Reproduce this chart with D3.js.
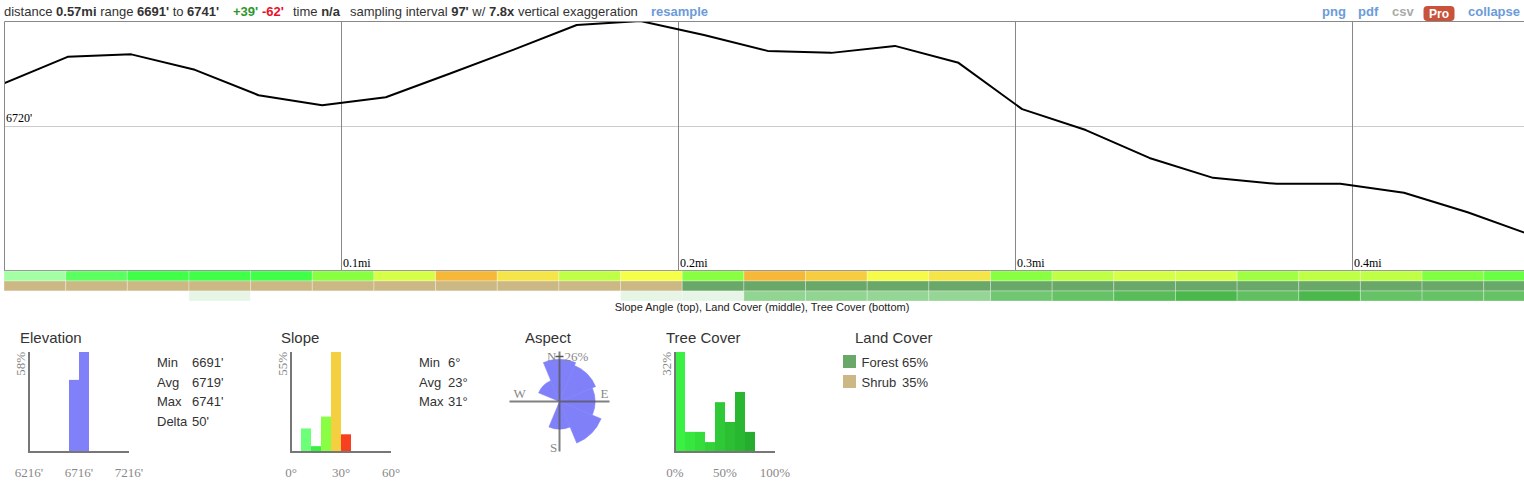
<!DOCTYPE html>
<html lang="en">
<head>
<meta charset="UTF-8">
<title>Terrain profile</title>
<script src="https://d3js.org/d3.v7.min.js"></script>
<style>
  body { margin: 0; background: #fff; }
  svg { display: block; }
  text { white-space: pre; }
</style>
</head>
<body>
<svg width="1524" height="484"></svg>
<script>
// profile elevations (ft), one sample about every 100 ft
var elevation = [6728.5, 6733.8, 6734.3, 6731.2, 6726.1, 6724.1, 6725.7, 6730.4, 6735.2, 6740.2,
                 6741.0, 6738.2, 6735.0, 6734.6, 6736.0, 6732.6, 6723.3, 6719.1, 6713.5, 6709.5,
                 6708.3, 6708.3, 6706.5, 6702.6, 6698.0];
var profileStepFt = 99.7;

// strip cells, one per sampling interval
var sampleStepFt = 96.6;
var slopeDeg = [6, 12, 16, 16, 16, 20, 24, 31, 28.7, 22.8, 27, 20, 31, 30, 27.3, 28.7,
                20, 22.8, 24, 24, 21.3, 22.8, 22.8, 19.6, 18.3];
var landCover = ['Shrub', 'Shrub', 'Shrub', 'Shrub', 'Shrub', 'Shrub', 'Shrub', 'Shrub', 'Shrub', 'Shrub',
                 'Shrub', 'Forest', 'Forest', 'Forest', 'Forest', 'Forest', 'Forest', 'Forest', 'Forest',
                 'Forest', 'Forest', 'Forest', 'Forest', 'Forest', 'Forest'];
var treeCover = [0, 0, 0, 10, 0, 0, 0, 0, 0, 0, 10, 10, 43, 43, 42, 42, 56, 61, 66, 71, 63, 71, 61, 61, 61];

var distTicks = [0.1, 0.2, 0.3, 0.4];   // miles
var elevGrid = [6720];

// summary histograms (% of samples)
var elevBinStart = [6616, 6716];
var elevPct = [41.9, 58.1];
var slopeBinStart = [6, 12, 18, 24, 30];
var slopePct = [12.9, 3.2, 19.4, 54.8, 9.7];
var treeBinStart = [0, 10, 20, 30, 40, 50, 60, 70];
var treePct = [32.3, 6.5, 6.5, 3.2, 16.1, 9.7, 19.4, 6.5];
var aspectDir = ['N', 'NE', 'E', 'SE', 'S', 'SW', 'W', 'NW'];
var aspectPct = [22.6, 19.4, 16.1, 25.8, 9.7, 0, 0, 6.5];
var landNames = ['Forest', 'Shrub'];
var landPct = [65, 35];

var elevStatNames = ['Min', 'Avg', 'Max', 'Delta'];
var elevStatValues = ["6691'", "6719'", "6741'", "50'"];
var slopeStatNames = ['Min', 'Avg', 'Max'];
var slopeStatValues = ['6°', '23°', '31°'];

var SANS = '"Liberation Sans", Arial, sans-serif';
var SERIF = '"Liberation Serif", "Times New Roman", serif';

var svg = d3.select('svg');

//----- header line
function textRun(x, parts, color) {
    var t = svg.append('text').attr('x', x).attr('y', 16)
        .attr('font-family', SANS).attr('font-size', 13).attr('fill', color || '#333');
    t.selectAll('tspan').data(parts).join('tspan')
        .attr('font-weight', function (d) { return d[1] ? 'bold' : null; })
        .text(function (d) { return d[0]; });
}
textRun(4, [['distance '], ['0.57mi', 1], [' range '], ["6691'", 1], [' to '], ["6741'", 1]]);
textRun(233, [["+39'", 1]], '#2e962e');
textRun(262, [["-62'", 1]], '#e8102a');
textRun(293, [['time '], ['n/a', 1]]);
textRun(350, [['sampling interval '], ["97'", 1], [' w/ '], ['7.8x', 1], [' vertical exaggeration']]);
textRun(651, [['resample', 1]], '#6b9bd9');
textRun(1322, [['png', 1]], '#6b9bd9');
textRun(1358, [['pdf', 1]], '#6b9bd9');
textRun(1392, [['csv', 1]], '#aaa');
svg.append('rect').attr('x', 1423.5).attr('y', 6).attr('width', 31).attr('height', 15)
    .attr('rx', 4).attr('fill', '#c9523b');
svg.append('text').attr('x', 1439).attr('y', 18).attr('text-anchor', 'middle')
    .attr('font-family', SANS).attr('font-size', 12).attr('font-weight', 'bold')
    .attr('fill', '#fff').text('Pro');
textRun(1468, [['collapse', 1]], '#6b9bd9');

//----- elevation profile
var plot = {left: 4, top: 21, right: 1524, bottom: 270};
var x = d3.scaleLinear().domain([0, 0.1]).range([4, 341]);          // miles -> px
var y = d3.scaleLinear().domain([6691, 6741]).range([plot.bottom, plot.top]);
var ftToMi = function (ft) { return ft / 5280; };

svg.append('defs').append('clipPath').attr('id', 'plotclip')
    .append('rect').attr('x', plot.left).attr('y', plot.top)
    .attr('width', plot.right - plot.left).attr('height', plot.bottom - plot.top);

var g = svg.append('g');

g.selectAll('line.hgrid').data(elevGrid).join('line')
    .attr('class', 'hgrid')
    .attr('x1', plot.left).attr('x2', plot.right)
    .attr('y1', function (d) { return Math.round(y(d)) + 0.5; })
    .attr('y2', function (d) { return Math.round(y(d)) + 0.5; })
    .attr('stroke', '#ccc');
g.selectAll('text.hlab').data(elevGrid).join('text')
    .attr('class', 'hlab')
    .attr('x', 6).attr('y', function (d) { return y(d) - 4; })
    .attr('font-family', SERIF).attr('font-size', 12).attr('fill', '#000')
    .text(function (d) { return d + "'"; });

g.selectAll('line.vgrid').data(distTicks).join('line')
    .attr('class', 'vgrid')
    .attr('x1', function (d) { return Math.round(x(d)) + 0.5; })
    .attr('x2', function (d) { return Math.round(x(d)) + 0.5; })
    .attr('y1', plot.top).attr('y2', plot.bottom)
    .attr('stroke', '#888');
g.selectAll('text.vlab').data(distTicks).join('text')
    .attr('class', 'vlab')
    .attr('x', function (d) { return x(d) + 2; }).attr('y', 267)
    .attr('font-family', SERIF).attr('font-size', 12).attr('fill', '#000')
    .text(function (d) { return d + 'mi'; });

var line = d3.line()
    .x(function (d, i) { return x(ftToMi(i * profileStepFt)); })
    .y(function (d) { return y(d); });
g.append('path').datum(elevation)
    .attr('d', line)
    .attr('clip-path', 'url(#plotclip)')
    .attr('fill', 'none').attr('stroke', '#000').attr('stroke-width', 2)
    .attr('stroke-linejoin', 'round');

g.append('path')
    .attr('d', 'M' + (plot.left + 0.5) + ',' + (plot.bottom + 0.5) + 'V' + (plot.top + 0.5) + 'H' + plot.right +
               'M' + plot.left + ',' + (plot.bottom + 0.5) + 'H' + plot.right)
    .attr('fill', 'none').attr('stroke', '#888');

//----- strips
var cellW = x(ftToMi(sampleStepFt)) - x(0);
var cellX = function (d, i) { return x(ftToMi(i * sampleStepFt)); };

var slopeColor = d3.scaleLinear()
    .domain([6, 12, 16, 20, 24, 27, 29, 31, 36])
    .range(['#a4ffa4', '#5cff60', '#40ff48', '#88ff40', '#d6ff48', '#f6ff48', '#f6e048', '#f6b838', '#f84020']);
var landColor = d3.scaleOrdinal().domain(['Forest', 'Shrub']).range(['#6aa86a', '#ccb884']);
var treeColor = d3.scaleLinear().domain([0, 85]).range(['#ffffff', '#28aa28']).clamp(true);

function strip(data, y0, color) {
    svg.append('g').selectAll('rect').data(data).join('rect')
        .attr('x', cellX).attr('y', y0).attr('width', cellW).attr('height', 10)
        .attr('fill', color)
        .attr('stroke', 'rgba(255,255,255,0.3)').attr('stroke-width', 1);
}
strip(slopeDeg, 271, function (d) { return slopeColor(d); });
strip(landCover, 281, function (d) { return landColor(d); });
strip(treeCover, 291, function (d) { return treeColor(d); });

svg.append('text').attr('x', 762).attr('y', 311).attr('text-anchor', 'middle')
    .attr('font-family', SANS).attr('font-size', 11).attr('fill', '#222')
    .text('Slope Angle (top), Land Cover (middle), Tree Cover (bottom)');

//----- summary panels
function title(xp, s) {
    svg.append('text').attr('x', xp).attr('y', 343)
        .attr('font-family', SANS).attr('font-size', 15).attr('fill', '#333').text(s);
}
title(20, 'Elevation');
title(281, 'Slope');
title(525, 'Aspect');
title(666, 'Tree Cover');
title(855, 'Land Cover');

var histTop = 352, histBottom = 452;

function histogram(x0, domain, starts, binW, pct, color, ticks, fmt) {
    var hx = d3.scaleLinear().domain(domain).range([x0, x0 + 100]);
    var maxPct = d3.max(pct);
    var hy = d3.scaleLinear().domain([0, maxPct]).range([histBottom, histTop]);
    var hg = svg.append('g');
    hg.selectAll('rect').data(starts).join('rect')
        .attr('x', function (d) { return hx(d); })
        .attr('width', function (d) { return hx(d + binW) - hx(d); })
        .attr('y', function (d, i) { return hy(pct[i]); })
        .attr('height', function (d, i) { return histBottom - hy(pct[i]); })
        .attr('fill', color);
    hg.append('path')
        .attr('d', 'M' + x0 + ',' + histTop + 'V' + histBottom + 'H' + (x0 + 100))
        .attr('fill', 'none').attr('stroke', '#777').attr('stroke-width', 2);
    hg.append('text')
        .attr('transform', 'translate(' + (x0 - 4) + ',' + histTop + ') rotate(-90)')
        .attr('text-anchor', 'end')
        .attr('font-family', SERIF).attr('font-size', 13).attr('fill', '#888')
        .text(Math.round(maxPct) + '%');
    hg.selectAll('text.tick').data(ticks).join('text')
        .attr('class', 'tick')
        .attr('x', function (d) { return hx(d); }).attr('y', 476.5)
        .attr('text-anchor', 'middle')
        .attr('font-family', SERIF).attr('font-size', 13).attr('fill', '#888')
        .text(fmt);
}

histogram(29, [6216, 7216], elevBinStart, 100, elevPct,
          '#8080f8', [6216, 6716, 7216], function (d) { return d + "'"; });

var slopeBinColor = d3.scaleOrdinal().domain(slopeBinStart)
    .range(['#6cff78', '#38f040', '#88ff44', '#f4d040', '#f84020']);
histogram(291, [0, 60], slopeBinStart, 6, slopePct,
          function (d) { return slopeBinColor(d); }, [0, 30, 60], function (d) { return d + '°'; });

var treeBinColor = d3.scaleLinear().domain([0, 70]).range(['#3af042', '#26ac2e']);
histogram(675, [0, 100], treeBinStart, 10, treePct,
          function (d) { return treeBinColor(d); }, [0, 50, 100], function (d) { return d + '%'; });

function stats(xl, xv, names, values) {
    var sg = svg.append('g').attr('font-family', SANS).attr('font-size', 13).attr('fill', '#333');
    sg.selectAll('text.n').data(names).join('text').attr('class', 'n')
        .attr('x', xl).attr('y', function (d, i) { return 367 + i * 19.7; }).text(function (d) { return d; });
    sg.selectAll('text.v').data(values).join('text').attr('class', 'v')
        .attr('x', xv).attr('y', function (d, i) { return 367 + i * 19.7; }).text(function (d) { return d; });
}
stats(157, 192, elevStatNames, elevStatValues);
stats(419, 448, slopeStatNames, slopeStatValues);

//----- aspect rose
var cx = 559.5, cy = 401.5, R = 45;
var rr = d3.scaleSqrt().domain([0, d3.max(aspectPct)]).range([0, R]);
var arc = d3.arc()
    .innerRadius(0)
    .outerRadius(function (d) { return rr(d.v); })
    .startAngle(function (d) { return (d.i * 45 - 22.5) * Math.PI / 180; })
    .endAngle(function (d) { return (d.i * 45 + 22.5) * Math.PI / 180; });
var rose = svg.append('g').attr('transform', 'translate(' + cx + ',' + cy + ')');
rose.selectAll('path').data(aspectPct.map(function (v, i) { return {v: v, i: i, dir: aspectDir[i]}; }))
    .join('path').attr('d', arc)
    .attr('fill', '#8080f8').attr('stroke', '#8080f8').attr('stroke-width', 0.6);
rose.append('path').attr('d', 'M-50,0H50M0,-50V50')
    .attr('stroke', '#555').attr('stroke-opacity', 0.75).attr('stroke-width', 2);
rose.append('path').attr('d', 'M-4,' + (-R) + 'H4')
    .attr('stroke', '#555').attr('stroke-width', 1.5);
var rl = rose.append('g').attr('font-family', SERIF).attr('font-size', 13).attr('fill', '#888');
rl.append('text').attr('x', -3).attr('y', -R + 4).attr('text-anchor', 'end').text('N');
rl.append('text').attr('x', 5).attr('y', -R + 4).text(Math.round(d3.max(aspectPct)) + '%');
rl.append('text').attr('x', -46).attr('y', -3.5).text('W');
rl.append('text').attr('x', 41).attr('y', -3.5).text('E');
rl.append('text').attr('x', -9.5).attr('y', 50).text('S');

//----- land cover legend
var lg = svg.append('g');
lg.selectAll('rect').data(landNames).join('rect')
    .attr('x', 843).attr('y', function (d, i) { return 355 + i * 20; })
    .attr('width', 13).attr('height', 13)
    .attr('fill', function (d) { return landColor(d); });
lg.selectAll('text.n').data(landNames).join('text').attr('class', 'n')
    .attr('x', 861.5).attr('y', function (d, i) { return 367 + i * 20; })
    .attr('font-family', SANS).attr('font-size', 13).attr('fill', '#333')
    .text(function (d) { return d; });
lg.selectAll('text.p').data(landPct).join('text').attr('class', 'p')
    .attr('x', 902).attr('y', function (d, i) { return 367 + i * 20; })
    .attr('font-family', SANS).attr('font-size', 13).attr('fill', '#333')
    .text(function (d) { return d + '%'; });
</script>
</body>
</html>
